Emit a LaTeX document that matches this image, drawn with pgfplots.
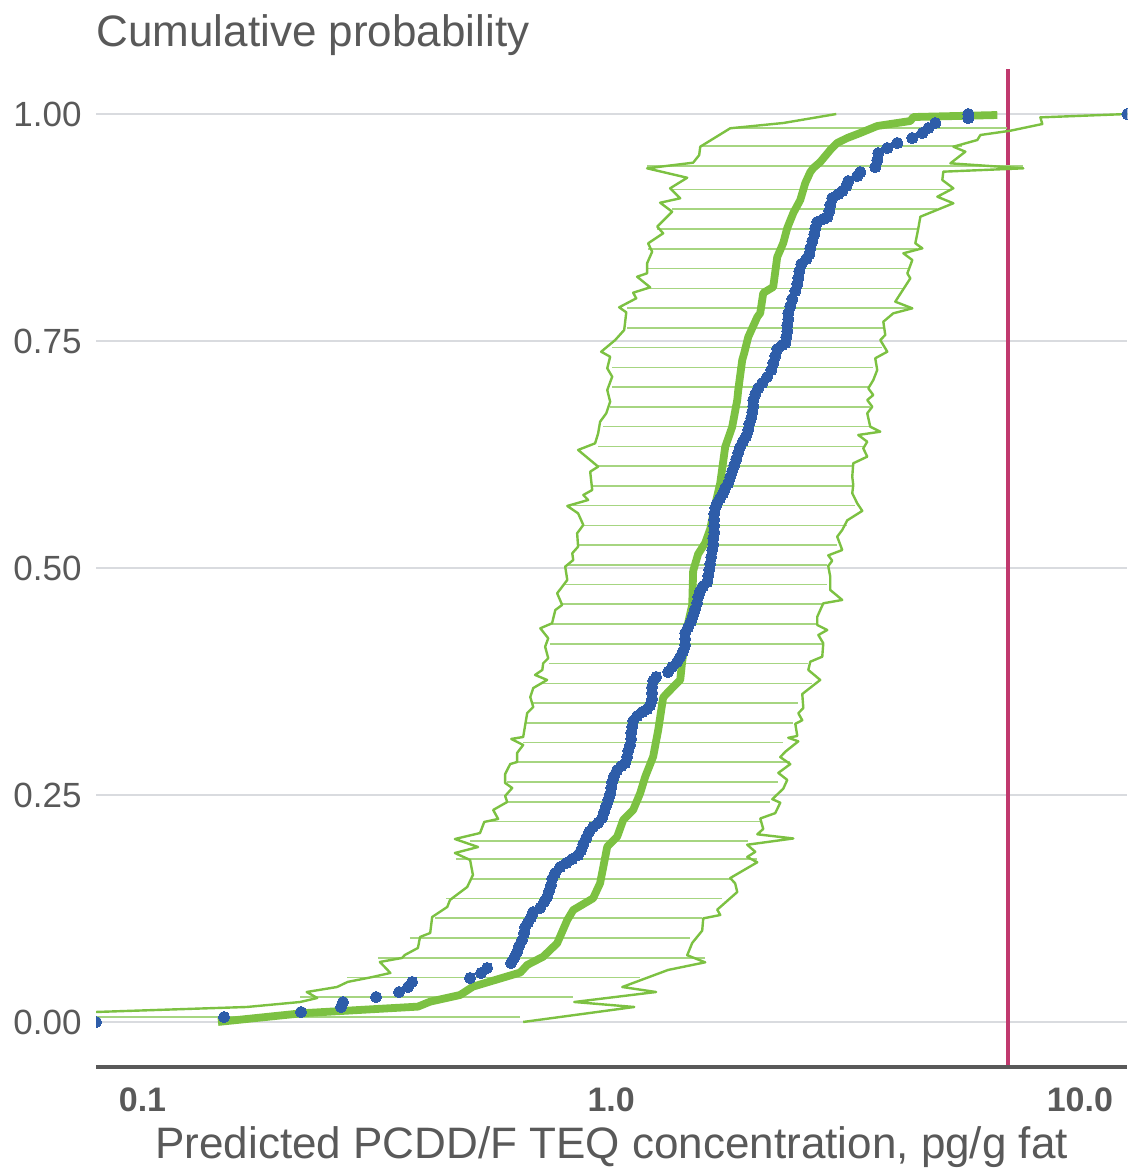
\documentclass[border=0pt]{standalone}
\usepackage{fontspec}
\setmainfont{Liberation Sans}
\usepackage{pgfplots}
\pgfplotsset{compat=1.18}
\usepackage{pgfplotstable}
\definecolor{cgreen}{HTML}{7CC142}
\definecolor{clight}{HTML}{A6D581}
\definecolor{cblue}{HTML}{2E5DA9}
\definecolor{cred}{HTML}{C0396E}
\definecolor{cgrid}{HTML}{D9DBDF}
\definecolor{ctext}{HTML}{595959}

% lower (2.5%) bound of the band
\pgfplotstableread{
x y
3.022 1.0000
2.329 0.9901
1.795 0.9843
1.549 0.9640
1.541 0.9548
1.496 0.9464
1.193 0.9402
1.453 0.9298
1.336 0.9182
1.404 0.9072
1.272 0.9023
1.349 0.8924
1.254 0.8759
1.291 0.8686
1.199 0.8576
1.223 0.8484
1.193 0.8356
1.193 0.8246
1.136 0.8208
1.211 0.8091
1.114 0.8032
1.131 0.7970
1.040 0.7871
1.077 0.7816
1.066 0.7621
1.020 0.7511
0.952 0.7382
0.995 0.7327
0.981 0.7199
1.005 0.7107
0.981 0.6960
0.995 0.6832
0.976 0.6703
0.947 0.6611
0.938 0.6483
0.924 0.6373
0.850 0.6300
0.938 0.6116
0.902 0.6061
0.911 0.5859
0.872 0.5804
0.893 0.5749
0.806 0.5683
0.850 0.5602
0.872 0.5474
0.846 0.5382
0.850 0.5235
0.826 0.5162
0.830 0.5088
0.798 0.5015
0.806 0.4868
0.767 0.4721
0.786 0.4593
0.760 0.4537
0.748 0.4391
0.706 0.4336
0.734 0.4226
0.723 0.4133
0.734 0.4006
0.716 0.3950
0.713 0.3877
0.688 0.3822
0.730 0.3767
0.682 0.3678
0.672 0.3579
0.682 0.3469
0.662 0.3403
0.649 0.3139
0.612 0.3117
0.649 0.3051
0.630 0.2963
0.630 0.2863
0.609 0.2841
0.594 0.2731
0.594 0.2632
0.615 0.2577
0.594 0.2489
0.600 0.2423
0.560 0.2335
0.574 0.2236
0.536 0.2203
0.525 0.2081
0.464 0.2015
0.520 0.1927
0.464 0.1861
0.500 0.1784
0.507 0.1619
0.493 0.1487
0.453 0.1344
0.447 0.1267
0.415 0.1156
0.411 0.0980
0.391 0.0936
0.387 0.0815
0.363 0.0738
0.358 0.0705
0.321 0.0661
0.338 0.0540
0.310 0.0496
0.274 0.0441
0.260 0.0385
0.224 0.0330
0.236 0.0264
0.217 0.0220
0.167 0.0165
0.0796 0.0110
}\lowerb

% upper (97.5%) bound of the band
\pgfplotstableread{
x y
12.63 1.0000
8.236 0.9963
8.317 0.9890
7.106 0.9816
6.134 0.9769
6.045 0.9714
5.372 0.9640
5.698 0.9585
5.293 0.9457
7.576 0.9402
5.113 0.9365
5.088 0.9273
5.372 0.9182
4.965 0.9089
5.372 0.9017
4.568 0.8869
4.522 0.8741
4.456 0.8576
4.613 0.8521
4.202 0.8466
4.391 0.8392
4.285 0.8245
4.348 0.8190
4.038 0.7933
4.391 0.7860
3.999 0.7805
3.808 0.7712
3.845 0.7566
3.752 0.7511
3.883 0.7382
3.660 0.7310
3.696 0.7181
3.625 0.7070
3.537 0.6979
3.625 0.6905
3.519 0.6850
3.607 0.6776
3.519 0.6704
3.571 0.6556
3.752 0.6501
3.366 0.6465
3.519 0.6391
3.451 0.6318
3.519 0.6226
3.285 0.6153
3.269 0.6006
3.285 0.5914
3.269 0.5823
3.350 0.5712
3.434 0.5629
3.190 0.5525
3.112 0.5419
3.036 0.5345
3.112 0.5198
2.905 0.5139
2.963 0.5080
2.905 0.5022
2.934 0.4904
2.934 0.4758
3.112 0.4648
2.835 0.4611
2.753 0.4464
2.753 0.4372
2.891 0.4317
2.767 0.4262
2.835 0.4171
2.821 0.4023
2.660 0.3968
2.634 0.3877
2.793 0.3767
2.557 0.3612
2.570 0.3458
2.508 0.3400
2.557 0.3323
2.471 0.3284
2.495 0.3150
2.387 0.3130
2.508 0.3091
2.352 0.2976
2.295 0.2917
2.411 0.2840
2.273 0.2743
2.375 0.2666
2.329 0.2569
2.207 0.2454
2.295 0.2415
2.239 0.2300
2.080 0.2241
2.111 0.2126
2.050 0.2067
2.447 0.2021
1.951 0.1952
2.030 0.1874
1.951 0.1817
2.050 0.1759
1.795 0.1585
1.839 0.1526
1.858 0.1431
1.684 0.1237
1.709 0.1178
1.572 0.1141
1.564 0.1006
1.489 0.0870
1.453 0.0735
1.587 0.0657
1.323 0.0573
1.056 0.0385
1.247 0.0330
0.834 0.0220
1.120 0.0165
0.649 0.0000
}\upperb

% horizontal band segments (left end, right end, blank row)
\pgfplotstableread{
x y
1.795 0.9843
7.000 0.9843
nan nan
1.549 0.9648
5.600 0.9648
nan nan
1.193 0.9430
7.576 0.9430
nan nan
1.336 0.9169
5.372 0.9169
nan nan
1.349 0.8951
4.965 0.8951
nan nan
1.254 0.8733
4.522 0.8733
nan nan
1.199 0.8515
4.500 0.8515
nan nan
1.193 0.8298
4.306 0.8298
nan nan
1.211 0.8080
4.202 0.8080
nan nan
1.082 0.7863
4.391 0.7863
nan nan
1.082 0.7645
3.808 0.7645
nan nan
1.005 0.7428
3.789 0.7428
nan nan
1.005 0.7210
3.625 0.7210
nan nan
1.005 0.6993
3.571 0.6993
nan nan
0.995 0.6775
3.571 0.6775
nan nan
0.962 0.6558
3.571 0.6558
nan nan
0.938 0.6340
3.451 0.6340
nan nan
0.938 0.6123
3.269 0.6123
nan nan
0.911 0.5905
3.269 0.5905
nan nan
0.830 0.5688
3.317 0.5688
nan nan
0.872 0.5470
3.190 0.5470
nan nan
0.846 0.5253
3.036 0.5253
nan nan
0.806 0.5035
2.891 0.5035
nan nan
0.790 0.4818
2.891 0.4818
nan nan
0.786 0.4601
2.821 0.4601
nan nan
0.748 0.4383
2.753 0.4383
nan nan
0.741 0.4165
2.821 0.4165
nan nan
0.735 0.3948
2.634 0.3948
nan nan
0.713 0.3730
2.687 0.3730
nan nan
0.682 0.3513
2.508 0.3513
nan nan
0.655 0.3295
2.447 0.3295
nan nan
0.649 0.3078
2.329 0.3078
nan nan
0.624 0.2860
2.411 0.2860
nan nan
0.600 0.2643
2.273 0.2643
nan nan
0.600 0.2425
2.185 0.2425
nan nan
0.536 0.2208
2.080 0.2208
nan nan
0.500 0.1990
1.961 0.1990
nan nan
0.467 0.1795
2.050 0.1795
nan nan
0.500 0.1577
1.795 0.1577
nan nan
0.444 0.1360
1.726 0.1360
nan nan
0.420 0.1142
1.564 0.1142
nan nan
0.372 0.0925
1.474 0.0925
nan nan
0.318 0.0707
1.587 0.0707
nan nan
0.273 0.0490
1.153 0.0490
nan nan
0.217 0.0272
0.830 0.0272
nan nan
0.0796 0.0055
0.640 0.0055
}\bands

% median prediction
\pgfplotstableread{
x y
0.1449 0.0000
0.219 0.0096
0.387 0.0169
0.411 0.0224
0.476 0.0297
0.507 0.0389
0.640 0.0545
0.662 0.0628
0.716 0.0719
0.767 0.0867
0.806 0.1123
0.830 0.1233
0.915 0.1362
0.947 0.1528
0.981 0.1931
1.030 0.2041
1.061 0.2225
1.114 0.2335
1.153 0.2519
1.182 0.2701
1.229 0.2922
1.260 0.3216
1.291 0.3574
1.317 0.3623
1.404 0.3767
1.417 0.3965
1.439 0.4207
1.453 0.4350
1.489 0.4592
1.496 0.4967
1.533 0.5154
1.587 0.5275
1.627 0.5430
1.667 0.5694
1.709 0.5936
1.751 0.6333
1.812 0.6553
1.858 0.6850
1.867 0.6960
1.904 0.7291
1.923 0.7368
1.961 0.7544
2.050 0.7764
2.080 0.7808
2.111 0.8029
2.217 0.8095
2.261 0.8425
2.329 0.8579
2.375 0.8744
2.447 0.8910
2.532 0.9053
2.595 0.9240
2.660 0.9361
2.700 0.9405
2.793 0.9471
2.934 0.9604
3.036 0.9681
3.190 0.9736
3.400 0.9791
3.696 0.9868
4.348 0.9923
4.413 0.9967
6.667 0.9989
}\median

% observed values (empirical cumulative probability)
\pgfplotstableread{
x y
0.0796 0.0000
0.1493 0.0055
0.2179 0.0110
0.2652 0.0165
0.2678 0.0220
0.3151 0.0275
0.3528 0.0330
0.3687 0.0385
0.3761 0.0441
0.5000 0.0485
0.5279 0.0540
0.5437 0.0595
0.6117 0.0650
0.6208 0.0705
0.6300 0.0771
0.6362 0.0837
0.6458 0.0903
0.6522 0.0980
0.6554 0.1046
0.6651 0.1101
0.6750 0.1156
0.6817 0.1211
0.7056 0.1256
0.7196 0.1322
0.7303 0.1377
0.7375 0.1443
0.7447 0.1509
0.7484 0.1575
0.7596 0.1641
0.7785 0.1707
0.8019 0.1751
0.8258 0.1795
0.8505 0.1839
0.8631 0.1894
0.8717 0.1960
0.8847 0.2026
0.8977 0.2093
0.9154 0.2148
0.9382 0.2192
0.9568 0.2247
0.9663 0.2313
0.9758 0.2379
0.9854 0.2445
0.9951 0.2511
1.0000 0.2577
1.0049 0.2643
1.0148 0.2709
1.0301 0.2775
1.0503 0.2819
1.0712 0.2852
1.0818 0.2919
1.0871 0.2985
1.0979 0.3051
1.1033 0.3117
1.1033 0.3183
1.1088 0.3249
1.1143 0.3315
1.1363 0.3370
1.1645 0.3414
1.1935 0.3447
1.2111 0.3491
1.2231 0.3557
1.2231 0.3623
1.2231 0.3689
1.2292 0.3756
1.2474 0.3800
1.3232 0.3855
1.3494 0.3910
1.3830 0.3965
1.4036 0.4020
1.4245 0.4086
1.4386 0.4152
1.4386 0.4218
1.4386 0.4284
1.4599 0.4350
1.4814 0.4416
1.4962 0.4482
1.5109 0.4548
1.5258 0.4615
1.5333 0.4681
1.5488 0.4747
1.5719 0.4802
1.6030 0.4846
1.6109 0.4912
1.6188 0.4978
1.6267 0.5044
1.6347 0.5121
1.6428 0.5198
1.6510 0.5264
1.6510 0.5330
1.6591 0.5396
1.6591 0.5463
1.6591 0.5529
1.6591 0.5595
1.6672 0.5661
1.6837 0.5716
1.7087 0.5771
1.7342 0.5826
1.7512 0.5881
1.7772 0.5936
1.7947 0.6002
1.8125 0.6068
1.8304 0.6134
1.8485 0.6200
1.8667 0.6267
1.8851 0.6333
1.9132 0.6399
1.9417 0.6454
1.9607 0.6520
1.9703 0.6586
1.9900 0.6652
1.9999 0.6718
2.0098 0.6784
2.0098 0.6850
2.0296 0.6916
2.0597 0.6982
2.1003 0.7037
2.1525 0.7104
2.1956 0.7181
2.2175 0.7258
2.2393 0.7335
2.2614 0.7412
2.3176 0.7456
2.3520 0.7478
2.3637 0.7544
2.3752 0.7610
2.3752 0.7676
2.3869 0.7742
2.3869 0.7808
2.4108 0.7885
2.4347 0.7963
2.4708 0.8051
2.4952 0.8128
2.5075 0.8194
2.5198 0.8271
2.5446 0.8348
2.6082 0.8403
2.6467 0.8458
2.6601 0.8524
2.6864 0.8601
2.7130 0.8678
2.7263 0.8744
2.7532 0.8811
2.8350 0.8844
2.8912 0.8866
2.9197 0.8932
2.9337 0.8998
2.9627 0.9075
3.0513 0.9119
3.1122 0.9152
3.1742 0.9207
3.2053 0.9262
3.3500 0.9317
3.4004 0.9361
3.6602 0.9416
3.6963 0.9493
3.7145 0.9570
3.8832 0.9626
4.0781 0.9681
4.3909 0.9736
4.6130 0.9791
4.7510 0.9846
4.9168 0.9901
5.7819 0.9956
5.7819 1.0000
12.63 1.0000
}\observed

\begin{document}
\begin{tikzpicture}
\begin{axis}[
  scale only axis,
  width=515.5pt, height=499.2pt,
  xmode=log,
  xmin=0.0796, xmax=12.63,
  ymin=-0.05, ymax=1.05,
  axis line style={draw=none},
  major tick length=0pt,
  minor tick num=0,
  tick style={draw=none},
  xtick={0.1,1,10},
  xticklabels={0.1,1.0,10.0},
  ytick={0,0.25,0.5,0.75,1},
  yticklabels={0.00,0.25,0.50,0.75,1.00},
  xticklabel style={font=\bfseries\fontsize{17}{17}\selectfont, text=ctext, anchor=north, inner sep=0pt, yshift=-10pt},
  yticklabel style={font=\fontsize{17.5}{17.5}\selectfont, text=ctext, anchor=east, inner sep=0pt, xshift=-7pt},
  ymajorgrids,
  major grid style={cgrid, line width=1pt},
  title={Cumulative probability},
  title style={at={(axis description cs:0,1)}, anchor=base west, yshift=5pt, inner sep=0pt, font=\fontsize{22}{22}\selectfont, text=ctext},
  xlabel={Predicted PCDD/F TEQ concentration, pg/g fat},
  xlabel style={at={(axis description cs:0.5,0)}, anchor=base, yshift=-45.5pt, inner sep=0pt, font=\fontsize{22}{22}\selectfont, text=ctext},
  unbounded coords=jump,
  clip marker paths=true,
]
\addplot[cred, line width=2pt] coordinates {(7.02,-0.05) (7.02,1.05)};
\addplot[clight, line width=0.8pt] table {\bands};
\addplot[cgreen, line width=1.2pt, line join=round] table {\lowerb};
\addplot[cgreen, line width=1.2pt, line join=round] table {\upperb};
\addplot[cgreen, line width=3.9pt, line join=round] table {\median};
\addplot[cblue, only marks, mark=*, mark size=2.8pt, mark options={fill=cblue, draw=cblue, line width=0pt}] table {\observed};
\end{axis}
\draw[ctext, line width=2pt] (0,0) -- (515.5pt,0);
\path (-48pt,-51.3pt) rectangle (518pt,533.5pt);
\end{tikzpicture}
\end{document}
